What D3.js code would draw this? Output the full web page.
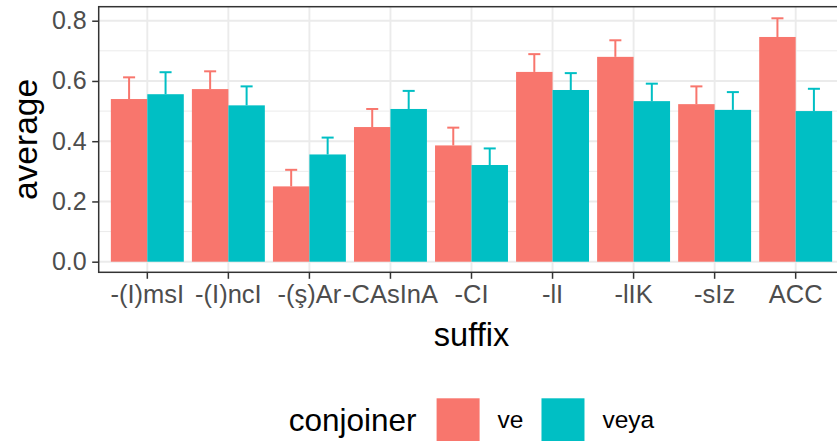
<!DOCTYPE html>
<html><head><meta charset="utf-8">
<script src="https://cdn.jsdelivr.net/npm/d3@7"></script>
<style>
html,body{margin:0;padding:0;background:#fff;overflow:hidden;}
text{font-family:"Liberation Sans",Arial,Helvetica,sans-serif;}
</style></head>
<body>
<svg id="chart" width="837" height="441"></svg>
<script>
const suffixes = ["-(I)msI","-(I)ncI","-(ş)Ar","-CAsInA","-CI","-lI","-lIK","-sIz","ACC"];
const conjoiners = ["ve","veya"];
const veAverage   = [0.540,0.573,0.250,0.447,0.386,0.630,0.680,0.523,0.746];
const veUpper     = [0.612,0.632,0.305,0.507,0.445,0.689,0.735,0.582,0.808];
const veyaAverage = [0.556,0.519,0.356,0.507,0.321,0.570,0.533,0.504,0.500];
const veyaUpper   = [0.629,0.582,0.412,0.567,0.376,0.626,0.591,0.563,0.574];
const yTicks = [0.0,0.2,0.4,0.6,0.8];
const yMinor = [0.1,0.3,0.5,0.7];
const colors = ["#F8766D","#00BFC4"];

const rows = [];
suffixes.forEach((s,i)=>{
  rows.push({suffix:s, conj:"ve", avg:veAverage[i], up:veUpper[i]});
  rows.push({suffix:s, conj:"veya", avg:veyaAverage[i], up:veyaUpper[i]});
});

const svg = d3.select("#chart");
const P = {left:98.7, right:844.3, top:6.7, bottom:272.3};

const x = d3.scaleBand().domain(suffixes).range([P.left,P.right]).paddingInner(0.1).paddingOuter(0.15);
const xs = d3.scaleBand().domain(conjoiners).range([0,x.bandwidth()]).padding(0);
const y = d3.scaleLinear().domain([-0.0352,0.8465]).range([P.bottom,P.top]);
const color = d3.scaleOrdinal().domain(conjoiners).range(colors);

svg.append("rect").attr("x",P.left).attr("y",P.top).attr("width",P.right-P.left).attr("height",P.bottom-P.top).attr("fill","#fff");

// grid
const g = svg.append("g");
g.selectAll(".ymin").data(yMinor).join("line")
  .attr("x1",P.left).attr("x2",P.right).attr("y1",d=>y(d)).attr("y2",d=>y(d))
  .attr("stroke","#ebebeb").attr("stroke-width",1);
g.selectAll(".ymaj").data(yTicks).join("line")
  .attr("x1",P.left).attr("x2",P.right).attr("y1",d=>y(d)).attr("y2",d=>y(d))
  .attr("stroke","#ebebeb").attr("stroke-width",1.9);
g.selectAll(".xmaj").data(suffixes).join("line")
  .attr("x1",d=>x(d)+x.bandwidth()/2).attr("x2",d=>x(d)+x.bandwidth()/2)
  .attr("y1",P.top).attr("y2",P.bottom)
  .attr("stroke","#ebebeb").attr("stroke-width",1.9);

// bars
svg.append("g").selectAll("rect").data(rows).join("rect")
  .attr("x",d=>x(d.suffix)+xs(d.conj))
  .attr("width",xs.bandwidth())
  .attr("y",d=>y(d.avg))
  .attr("height",d=>y(0)-y(d.avg))
  .attr("fill",d=>color(d.conj));

// error bars (upper only)
const capW = xs.bandwidth()*0.33;
const eb = svg.append("g").selectAll("g").data(rows).join("g")
  .attr("stroke",d=>color(d.conj)).attr("stroke-width",2);
eb.append("line")
  .attr("x1",d=>x(d.suffix)+xs(d.conj)+xs.bandwidth()/2)
  .attr("x2",d=>x(d.suffix)+xs(d.conj)+xs.bandwidth()/2)
  .attr("y1",d=>y(d.avg)).attr("y2",d=>y(d.up));
eb.append("line")
  .attr("x1",d=>x(d.suffix)+xs(d.conj)+xs.bandwidth()/2-capW/2)
  .attr("x2",d=>x(d.suffix)+xs(d.conj)+xs.bandwidth()/2+capW/2)
  .attr("y1",d=>y(d.up)).attr("y2",d=>y(d.up));

// panel border
svg.append("rect").attr("x",P.left).attr("y",P.top).attr("width",P.right-P.left).attr("height",P.bottom-P.top)
  .attr("fill","none").attr("stroke","#333333").attr("stroke-width",1.5);

// axes
const yAxis = d3.axisLeft(y).tickValues(yTicks).tickFormat(d3.format(".1f")).tickSize(6.5).tickPadding(5.5);
const ya = svg.append("g").attr("transform",`translate(${P.left},0)`).call(yAxis);
ya.select(".domain").remove();
ya.selectAll(".tick line").attr("stroke","#333333").attr("stroke-width",1.5);
ya.selectAll(".tick text").attr("fill","#4d4d4d").style("font-size","25px");

const xAxis = d3.axisBottom(x).tickSize(6.5).tickPadding(6);
const xa = svg.append("g").attr("transform",`translate(0,${P.bottom})`).call(xAxis);
xa.select(".domain").remove();
xa.selectAll(".tick line").attr("stroke","#333333").attr("stroke-width",1.5);
xa.selectAll(".tick text").attr("fill","#4d4d4d").style("font-size","25.5px");

// axis titles
svg.append("text").attr("x",(P.left+P.right)/2).attr("y",346).attr("text-anchor","middle")
  .style("font-size","32.5px").attr("fill","#000").text("suffix");
svg.append("text").attr("transform",`translate(37,${(P.top+P.bottom)/2}) rotate(-90)`).attr("text-anchor","middle")
  .style("font-size","33.5px").attr("fill","#000").text("average");

// legend
const leg = svg.append("g");
const keyS = 43, keyY = 398.3;
const title = leg.append("text").attr("y",431).style("font-size","31.5px").attr("fill","#000").text("conjoiner");
let cx = title.node().getComputedTextLength() + 20;
conjoiners.forEach((c,i)=>{
  leg.append("rect").attr("x",cx).attr("y",keyY).attr("width",keyS).attr("height",keyS).attr("fill",color(c));
  cx += keyS + 18;
  const t = leg.append("text").attr("x",cx).attr("y",427.5).style("font-size","24.5px").attr("fill","#000").text(c);
  cx += t.node().getComputedTextLength() + (i<conjoiners.length-1 ? 18 : 0);
});
leg.attr("transform",`translate(${(P.left+P.right)/2 - cx/2},0)`);
</script>
</body></html>
